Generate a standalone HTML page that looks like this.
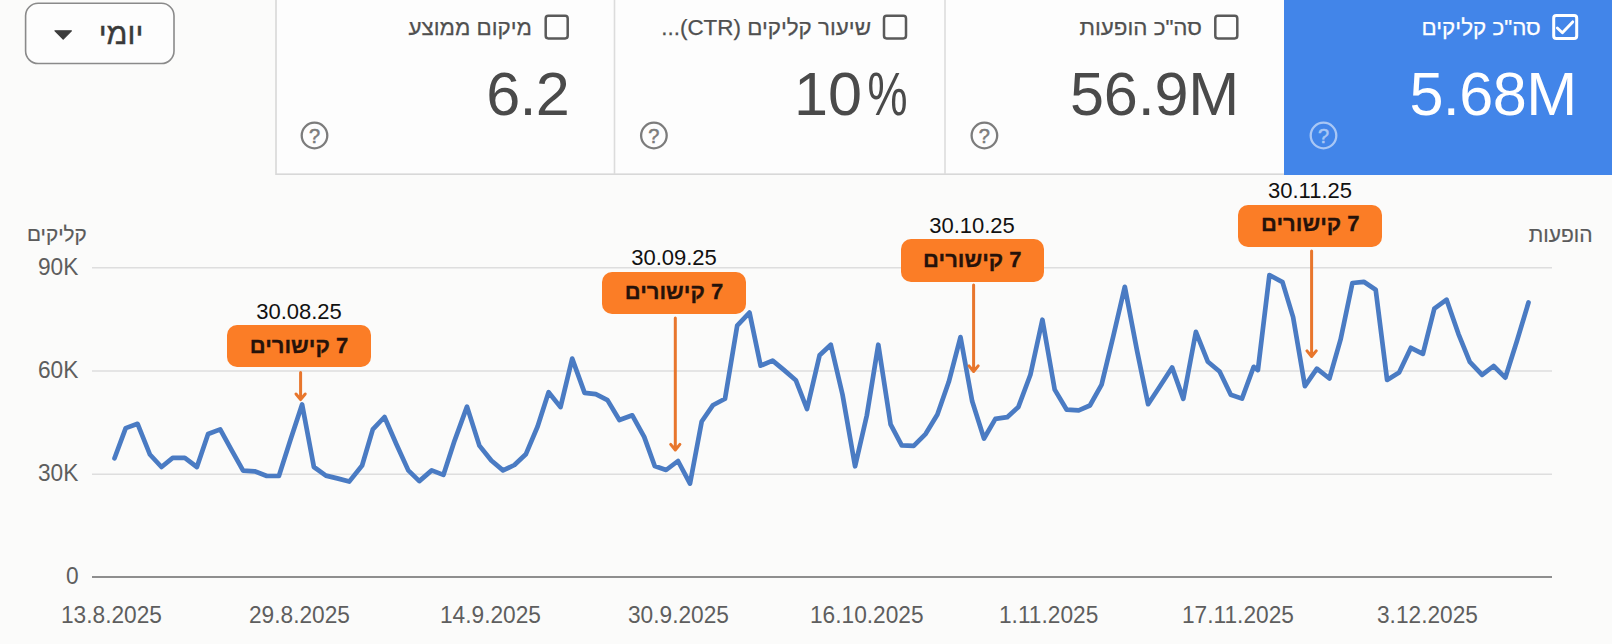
<!DOCTYPE html>
<html lang="he"><head><meta charset="utf-8"><title>chart</title>
<style>
html,body{margin:0;padding:0;}
body{width:1612px;height:644px;overflow:hidden;background:#fbfbfa;position:relative;font-family:"Liberation Sans","DejaVu Sans",sans-serif;}
.abs{position:absolute;}
.ddt{left:91px;top:15.5px;width:60px;text-align:center;font-size:30.5px;color:#3a3a3a;direction:rtl;line-height:34px;-webkit-text-stroke:0.4px #3a3a3a;}
.card{position:absolute;top:0;height:174px;box-sizing:border-box;}
.card .lab{position:absolute;top:13.2px;font-size:22.4px;color:#505050;-webkit-text-stroke:0.25px #505050;direction:rtl;line-height:30px;white-space:nowrap;}
.card .val{position:absolute;font-size:61.2px;color:#4a4a4a;line-height:60px;white-space:nowrap;direction:ltr;letter-spacing:-0.25px;}
.blue{background:#4285e9;}
.axis{font-size:22.7px;color:#5a5a5a;white-space:nowrap;line-height:26px;-webkit-text-stroke:0.2px #5a5a5a;}
.num{font-size:24.7px;color:#5e5e5e;white-space:nowrap;line-height:28px;transform:scaleX(0.919);transform-origin:0 50%;}
.date{font-size:22px;color:#111;white-space:nowrap;line-height:24px;text-align:center;width:160px;}
.tag{background:#fb7d26;border-radius:10px;height:42px;width:144px;color:#26120a;font-weight:bold;font-size:22px;line-height:42px;text-align:center;direction:rtl;white-space:nowrap;-webkit-text-stroke:0.3px #26120a;}
#w{position:absolute;left:0;top:0;width:1612px;height:644px;}
</style></head><body>
<div id="w">

<svg class="abs" style="left:0;top:0" width="1612" height="644" viewBox="0 0 1612 644">
  <rect x="276" y="-8" width="1346" height="182.2" fill="#fdfdfd" stroke="#d8d8d8" stroke-width="1.6"/>
  <line x1="614.5" y1="0" x2="614.5" y2="174" stroke="#dcdcdc" stroke-width="1.6"/>
  <line x1="945" y1="0" x2="945" y2="174" stroke="#dcdcdc" stroke-width="1.6"/>
  <rect x="25.6" y="3.3" width="148.4" height="60.2" rx="12.5" fill="#fdfdfd" stroke="#8a8a8a" stroke-width="1.6"/>
  <path d="M55 30.8 H71.4 L63.2 39.2 Z" fill="#3c3c3c" stroke="#3c3c3c" stroke-width="1.2" stroke-linejoin="round"/>
</svg>
<div class="abs ddt">יומי</div>


<!-- card 1: avg position -->
<div class="card" style="left:276px;width:338px;">
  <span class="lab" style="right:82px">מיקום ממוצע</span>
  <span class="val" style="right:44.9px;top:63.9px;letter-spacing:-0.75px">6.2</span>
</div>
<!-- card 2: CTR -->
<div class="card" style="left:614px;width:331px;">
  <span class="lab" style="right:74px">שיעור קליקים (CTR)...</span>
  <span class="val" style="right:37.5px;top:63.8px;letter-spacing:0">10<span style="display:inline-block;transform:scaleX(0.735);transform-origin:100% 50%;margin-left:-9px">%</span></span>
</div>
<!-- card 3: impressions -->
<div class="card" style="left:945px;width:339px;">
  <span class="lab" style="right:82px">סה"כ הופעות</span>
  <span class="val" style="right:45.1px;top:63.8px">56.9M</span>
</div>
<!-- card 4: clicks (selected) -->
<div class="abs blue" style="left:1284.3px;width:340px;top:-8px;height:182.6px;"></div>
<div class="card" style="left:1284.3px;width:328px;height:174.6px;">
  <span class="lab" style="right:71.5px;color:#fff;-webkit-text-stroke-color:#fff">סה"כ קליקים</span>
  <span class="val" style="right:35.6px;top:63.8px;color:#fff;letter-spacing:-0.55px">5.68M</span>
</div>

<!-- chart -->
<svg class="abs" style="left:0;top:0" width="1612" height="644" viewBox="0 0 1612 644">
  <g fill="none" stroke="#5a5a5a" stroke-width="2.5">
    <rect x="545.7" y="15.8" width="22" height="22.6" rx="2.6"/>
    <rect x="884" y="15.8" width="22" height="22.6" rx="2.6"/>
    <rect x="1215.3" y="15.8" width="22" height="22.6" rx="2.6"/>
    <rect x="1553.7" y="15.5" width="23" height="23" rx="2.6" stroke="#fff" stroke-width="3"/>
    <path d="M1557.3 28 L1562.4 32.8 L1572.7 21.9" stroke="#fff" stroke-width="2.9" stroke-linecap="round" stroke-linejoin="round"/>
  </g>
  <g fill="none" stroke="#7c7c7c" stroke-width="2.3">
    <circle cx="314.5" cy="135.5" r="12.8"/><circle cx="653.9" cy="135.5" r="12.8"/><circle cx="984.4" cy="135.5" r="12.8"/>
    <circle cx="1323.5" cy="135.5" r="12.8" stroke="#a9c7f5"/>
  </g>
  <g font-family="Liberation Sans, sans-serif" font-size="20" text-anchor="middle" fill="#7c7c7c" stroke="#7c7c7c" stroke-width="0.5">
    <text x="314.5" y="142.7">?</text><text x="653.9" y="142.7">?</text><text x="984.4" y="142.7">?</text>
    <text x="1323.5" y="142.7" fill="#a9c7f5" stroke="#a9c7f5">?</text>
  </g>
  <g stroke="#dedede" stroke-width="1.6">
    <line x1="92" y1="267.7" x2="1552" y2="267.7"/>
    <line x1="92" y1="371" x2="1552" y2="371"/>
    <line x1="92" y1="474.2" x2="1552" y2="474.2"/>
  </g>
  <line x1="92" y1="577" x2="1552" y2="577" stroke="#8e8e8e" stroke-width="2"/>
  <polyline fill="none" stroke="#4a7bc3" stroke-width="4.7" stroke-linejoin="round" stroke-linecap="round" points="114.5,458.3 125.7,428.1 137.6,423.8 149.9,454.5 161.5,467.0 172.7,457.9 184.8,457.9 196.9,467.0 208.1,434.0 220.2,429.4 231.6,450.1 243.1,470.7 254.6,471.3 266.8,476.0 278.9,476.0 290.4,440.0 302.1,404.4 313.9,467.0 325.9,475.6 337.3,478.4 349.2,481.6 362.1,465.5 372.8,429.4 384.5,417.0 396.4,444.3 408.3,470.4 419.3,481.1 431.7,470.4 443.4,474.9 454.6,440.6 467.0,406.6 479.4,445.6 491.3,460.5 503.0,470.4 514.4,465.0 525.8,454.3 537.6,426.5 548.6,392.2 560.5,407.1 572.2,358.6 584.6,392.9 595.8,394.2 607.5,400.1 619.4,420.0 632.3,415.3 644.2,436.9 654.7,466.0 666.1,470.0 678.0,461.0 690.0,483.6 701.7,421.5 712.8,405.3 725.0,398.8 737.2,325.7 749.5,312.6 760.6,365.7 772.6,360.6 783.8,369.9 795.8,380.2 807.0,409.0 819.6,355.3 830.8,344.7 842.5,394.5 855.1,466.3 866.8,415.5 878.3,344.7 890.6,424.3 901.7,445.3 913.7,445.9 925.7,433.8 937.4,414.5 948.8,381.8 960.5,337.1 972.2,401.3 984.0,438.5 995.4,418.9 1007.2,417.2 1018.4,406.9 1030.4,374.8 1042.4,319.7 1054.7,389.6 1066.7,409.7 1078.7,410.3 1089.9,405.5 1101.6,384.6 1113.4,335.7 1124.8,286.8 1137.1,351.0 1148.1,404.2 1159.8,386.5 1172.1,367.4 1183.3,398.9 1195.9,331.9 1207.9,361.8 1219.6,371.5 1230.8,394.7 1242.0,398.6 1253.7,366.8 1257.9,370.1 1269.4,275.1 1282.5,282.1 1293.1,317.1 1304.9,386.1 1316.9,368.7 1329.4,378.5 1340.6,339.4 1352.4,283.0 1363.8,281.8 1375.7,289.8 1387.1,379.9 1399.1,372.4 1410.9,347.8 1422.9,353.9 1434.3,308.7 1446.6,299.7 1458.4,333.8 1469.8,361.8 1482.1,374.9 1493.6,366.0 1505.3,377.7 1517.0,340.8 1528.5,302.5"/>
  <g stroke="#e8762c" stroke-width="3" fill="none" stroke-linecap="round" stroke-linejoin="round">
    <path d="M300.6 372.5 V399 M296 394 L300.6 399.6 L305.2 394"/>
    <path d="M675.3 318 V449.5 M670.7 444.4 L675.3 450 L679.9 444.4"/>
    <path d="M973.6 285 V371 M969 365.9 L973.6 371.5 L978.2 365.9"/>
    <path d="M1311.6 251 V356 M1307 350.9 L1311.6 356.5 L1316.2 350.9"/>
  </g>
</svg>

<div class="abs axis" style="left:27px;top:220.8px;direction:rtl;font-size:20.7px">קליקים</div>
<div class="abs axis" style="left:1528.8px;top:221.6px;direction:rtl;font-size:21px">הופעות</div>
<div class="abs num" style="left:38.4px;top:252.9px">90K</div>
<div class="abs num" style="left:38.4px;top:355.9px">60K</div>
<div class="abs num" style="left:38.4px;top:458.9px">30K</div>
<div class="abs num" style="left:65.6px;top:562.4px">0</div>

<div class="abs num" style="left:61.4px;top:601.3px">13.8.2025</div>
<div class="abs num" style="left:249.4px;top:601.3px">29.8.2025</div>
<div class="abs num" style="left:440.4px;top:601.3px">14.9.2025</div>
<div class="abs num" style="left:628.2px;top:601.3px">30.9.2025</div>
<div class="abs num" style="left:809.9px;top:601.3px">16.10.2025</div>
<div class="abs num" style="left:999.4px;top:601.3px">1.11.2025</div>
<div class="abs num" style="left:1182.1px;top:601.3px">17.11.2025</div>
<div class="abs num" style="left:1377.1px;top:601.3px">3.12.2025</div>

<div class="abs date" style="left:219px;top:300px">30.08.25</div>
<div class="abs tag" style="left:227px;top:325px">7 קישורים</div>
<div class="abs date" style="left:594px;top:246px">30.09.25</div>
<div class="abs tag" style="left:602px;top:272px;line-height:40px">7 קישורים</div>
<div class="abs date" style="left:892px;top:214px">30.10.25</div>
<div class="abs tag" style="left:900.7px;top:239px;width:143.3px;height:43px">7 קישורים</div>
<div class="abs date" style="left:1230px;top:178.8px">30.11.25</div>
<div class="abs tag" style="left:1238.3px;top:204.8px;line-height:38.4px">7 קישורים</div>

</div>
</body></html>
